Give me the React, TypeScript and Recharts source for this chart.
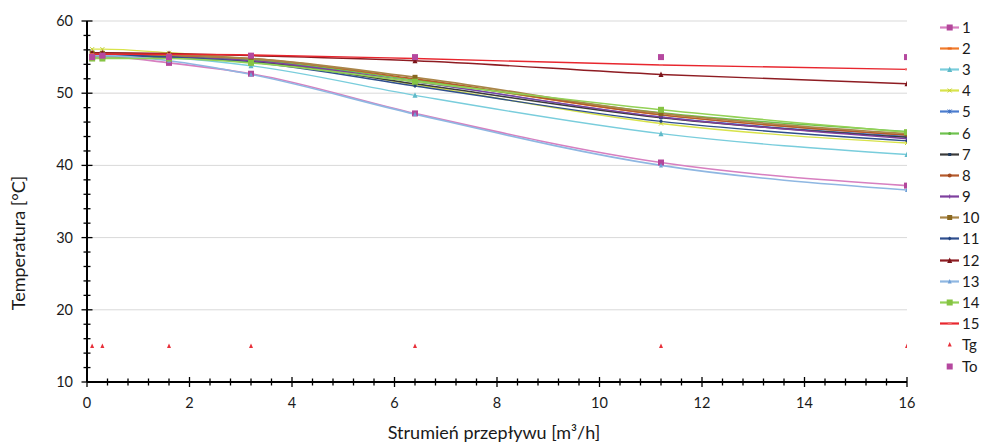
import React from "react";
import { LineChart, Line, XAxis, YAxis, CartesianGrid } from "recharts";

const X_VALUES = [0.1, 0.3, 1.6, 3.2, 6.4, 11.2, 16];
const SERIES_NAMES = ["1", "2", "3", "4", "5", "6", "7", "8", "9", "10", "11", "12", "13", "14", "15", "Tg", "To"];

const S1 = [55.0, 55.1, 54.2, 52.7, 47.2, 40.4, 37.2];
const S2 = [55.4, 55.4, 55.2, 54.7, 51.9, 47.0, 44.2];
const S3 = [55.3, 55.2, 54.9, 53.8, 49.7, 44.4, 41.5];
const S4 = [56.1, 56.1, 55.6, 54.7, 51.2, 45.8, 43.1];
const S5 = [55.6, 55.5, 55.1, 54.5, 51.6, 46.7, 44.0];
const S6 = [55.0, 55.0, 55.0, 54.6, 51.8, 47.3, 44.7];
const S7 = [55.3, 55.3, 55.0, 54.4, 51.3, 46.6, 43.9];
const S8 = [55.5, 55.4, 55.2, 54.8, 52.0, 47.0, 44.2];
const S9 = [55.2, 55.2, 55.0, 54.5, 51.6, 46.7, 43.7];
const S10 = [55.5, 55.5, 55.3, 54.8, 52.2, 47.2, 44.4];
const S11 = [55.3, 55.3, 55.0, 54.3, 51.0, 46.1, 43.4];
const S12 = [55.6, 55.6, 55.5, 55.2, 54.5, 52.6, 51.3];
const S13 = [55.2, 55.2, 54.5, 52.6, 47.1, 40.0, 36.6];
const S14 = [54.8, 54.8, 54.8, 54.2, 51.6, 47.7, 44.6];
const S15 = [55.4, 55.4, 55.4, 55.3, 54.8, 53.9, 53.3];
const TG = [15, 15, 15, 15, 15, 15, 15];
const TO = [55.0, 55.2, 55.0, 55.2, 55.0, 55.0, 55.0];

const ALL_VALUES = [S1, S2, S3, S4, S5, S6, S7, S8, S9, S10, S11, S12, S13, S14, S15, TG, TO];

const X_TICKS = Array.from({ length: 41 }, (_, i) => Math.round(i * 0.4 * 10) / 10);
const Y_TICKS = Array.from({ length: 26 }, (_, i) => 10 + i * 2);
const Y_GRID = [20, 30, 40, 50, 60];

type Style = { line: string; marker: string; shape: string; size: number; width: number; showLine: boolean };

const STYLES: Style[] = [
  { line: "#D77FC0", marker: "#B3479B", shape: "square", size: 6, width: 1.6, showLine: true },
  { line: "#F07A2A", marker: "#E8661A", shape: "dash", size: 4, width: 1.4, showLine: true },
  { line: "#79CDDC", marker: "#5FB9C8", shape: "triangle", size: 5, width: 1.4, showLine: true },
  { line: "#D8E34A", marker: "#C6D12E", shape: "x", size: 4, width: 1.4, showLine: true },
  { line: "#4A7CCF", marker: "#3F6FC0", shape: "star", size: 4, width: 1.4, showLine: true },
  { line: "#6EC24E", marker: "#5BB23C", shape: "circle", size: 3, width: 1.4, showLine: true },
  { line: "#3A3A3A", marker: "#1F3A5F", shape: "square", size: 3, width: 1.6, showLine: true },
  { line: "#B4592B", marker: "#A34A20", shape: "circle", size: 4, width: 1.4, showLine: true },
  { line: "#7E3F9E", marker: "#7E3F9E", shape: "plus", size: 4, width: 1.4, showLine: true },
  { line: "#A98548", marker: "#8A6820", shape: "square", size: 5, width: 1.8, showLine: true },
  { line: "#2E4E8E", marker: "#24447F", shape: "diamond", size: 4, width: 1.4, showLine: true },
  { line: "#8E1C22", marker: "#7A1419", shape: "triangle", size: 5, width: 1.4, showLine: true },
  { line: "#8FB7E2", marker: "#6F9FD6", shape: "triangle", size: 4, width: 1.6, showLine: true },
  { line: "#93D156", marker: "#86C443", shape: "square", size: 6, width: 1.6, showLine: true },
  { line: "#E8262E", marker: "#F06A6A", shape: "dash", size: 4, width: 1.4, showLine: true },
  { line: "none", marker: "#E8303A", shape: "triangle", size: 4, width: 0, showLine: false },
  { line: "none", marker: "#B5489F", shape: "square", size: 6, width: 0, showLine: false },
];

const DATA = X_VALUES.map((x, i) => {
  const row: Record<string, number> = { x };
  SERIES_NAMES.forEach((n, k) => {
    row[n] = ALL_VALUES[k][i];
  });
  return row;
});

const FONT = "Lato, 'Open Sans', sans-serif";
const TEXT = "#1a1a1a";

function MarkerShape({ cx, cy, shape, color, size }: { cx: number; cy: number; shape: string; color: string; size: number }) {
  if (cx == null || cy == null || isNaN(cx) || isNaN(cy)) return null;
  const h = size / 2;
  switch (shape) {
    case "square":
      return <rect x={cx - h} y={cy - h} width={size} height={size} fill={color} />;
    case "triangle":
      return <polygon points={`${cx},${cy - h - 0.5} ${cx + h},${cy + h} ${cx - h},${cy + h}`} fill={color} />;
    case "dash":
      return <rect x={cx - h} y={cy - 1} width={size} height={2} fill={color} />;
    case "circle":
      return <circle cx={cx} cy={cy} r={h} fill={color} />;
    case "diamond":
      return <polygon points={`${cx},${cy - h} ${cx + h},${cy} ${cx},${cy + h} ${cx - h},${cy}`} fill={color} />;
    case "x":
      return (
        <g stroke={color} strokeWidth={1}>
          <line x1={cx - h} y1={cy - h} x2={cx + h} y2={cy + h} />
          <line x1={cx - h} y1={cy + h} x2={cx + h} y2={cy - h} />
        </g>
      );
    case "plus":
      return (
        <g stroke={color} strokeWidth={1}>
          <line x1={cx - h} y1={cy} x2={cx + h} y2={cy} />
          <line x1={cx} y1={cy - h} x2={cx} y2={cy + h} />
        </g>
      );
    case "star":
      return (
        <g stroke={color} strokeWidth={1}>
          <line x1={cx - h} y1={cy - h} x2={cx + h} y2={cy + h} />
          <line x1={cx - h} y1={cy + h} x2={cx + h} y2={cy - h} />
          <line x1={cx} y1={cy - h} x2={cx} y2={cy + h} />
        </g>
      );
    default:
      return null;
  }
}

const isMultiple = (v: number, step: number) => Math.abs(v / step - Math.round(v / step)) < 1e-6;

function XTick(props: any) {
  const { x, y, payload } = props;
  const v = payload.value;
  const major = isMultiple(v, 2);
  const len = major ? 5 : 3.5;
  return (
    <g>
      <line x1={x} x2={x} y1={y - len} y2={y + len} stroke="#000" strokeWidth={1.3} />
      {major && (
        <text x={x} y={y + 25.5} textAnchor="middle" fontFamily={FONT} fontSize={14.5} fill={TEXT}>
          {v}
        </text>
      )}
    </g>
  );
}

function YTick(props: any) {
  const { x, y, payload } = props;
  const v = payload.value;
  const major = isMultiple(v, 10);
  const len = major ? 5.5 : 3.5;
  return (
    <g>
      <line x1={x - len} x2={x + len} y1={y} y2={y} stroke="#000" strokeWidth={1.3} />
      {major && (
        <text x={x - 14} y={y + 5} textAnchor="end" fontFamily={FONT} fontSize={14.5} fill={TEXT}>
          {v}
        </text>
      )}
    </g>
  );
}

function LegendBox() {
  return (
    <div style={{ position: "absolute", left: 938, top: 16.5, width: 43 }}>
      {SERIES_NAMES.map((n, k) => {
        const s = STYLES[k];
        return (
          <div key={n} style={{ height: 21.2, display: "flex", alignItems: "center" }}>
            <svg width={22} height={21} style={{ display: "block" }}>
              {s.showLine && <line x1={2} x2={21} y1={10.5} y2={10.5} stroke={s.line} strokeWidth={2.2} />}
              <MarkerShape cx={11.7} cy={10.5} shape={s.shape} color={s.marker} size={s.size} />
            </svg>
            <span style={{ fontFamily: FONT, fontSize: 15, color: TEXT, marginLeft: 2, lineHeight: "21px" }}>{n}</span>
          </div>
        );
      })}
    </div>
  );
}

export default function App() {
  return (
    <div style={{ position: "absolute", left: 0, top: 0, width: 981, height: 445, background: "#fff" }}>
      <LineChart width={981} height={445} data={DATA} margin={{ top: 21, right: 74, bottom: 0, left: 0 }}>
        <CartesianGrid vertical={false} horizontalValues={Y_GRID} stroke="#D9D9D9" strokeWidth={1} />
        <XAxis
          dataKey="x"
          type="number"
          domain={[0, 16]}
          ticks={X_TICKS}
          interval={0}
          tickSize={0}
          tickMargin={0}
          tickLine={false}
          tick={<XTick />}
          axisLine={{ stroke: "#000", strokeWidth: 2 }}
          height={63}
          allowDataOverflow
          label={(p: any) => (
            <text x={494} y={439} textAnchor="middle" fontFamily={FONT} fontSize={18} fill={TEXT}>
              Strumień przepływu [m³/h]
            </text>
          )}
        />
        <YAxis
          type="number"
          domain={[10, 60]}
          ticks={Y_TICKS}
          interval={0}
          tickSize={0}
          tickMargin={0}
          tickLine={false}
          tick={<YTick />}
          axisLine={{ stroke: "#000", strokeWidth: 2 }}
          width={87}
          allowDataOverflow
          label={(p: any) => (
            <text
              transform="translate(25,243) rotate(-90)"
              textAnchor="middle"
              fontFamily={FONT}
              fontSize={18}
              fill={TEXT}
            >
              Temperatura [°C]
            </text>
          )}
        />
        {SERIES_NAMES.map((n, k) => {
          const s = STYLES[k];
          return (
            <Line
              key={n}
              dataKey={n}
              name={n}
              type="monotone"
              stroke={s.showLine ? s.line : "none"}
              strokeWidth={s.width}
              isAnimationActive={false}
              activeDot={false}
              dot={(p: any) => (
                <MarkerShape key={`${n}-${p.index}`} cx={p.cx} cy={p.cy} shape={s.shape} color={s.marker} size={s.size} />
              )}
            />
          );
        })}
      </LineChart>
      <LegendBox />
    </div>
  );
}
